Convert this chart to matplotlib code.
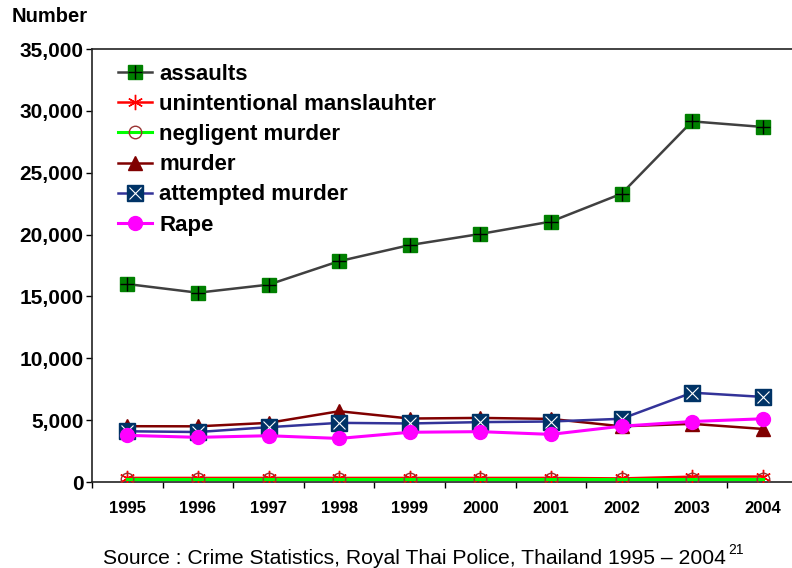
import matplotlib.pyplot as plt
import numpy as np
from matplotlib.legend_handler import HandlerTuple
from matplotlib.ticker import FuncFormatter, FixedLocator

plt.rcParams['font.family'] = ['Liberation Sans', 'DejaVu Sans']

# data
years = ["1995", "1996", "1997", "1998", "1999", "2000", "2001", "2002", "2003", "2004"]
assaults = [16000, 15300, 15950, 17850, 19150, 20050, 21050, 23300, 29150, 28700]
manslaughter = [330, 330, 330, 330, 330, 330, 330, 290, 430, 440]
negligent = [270, 270, 270, 270, 270, 270, 270, 270, 270, 270]
murder = [4510, 4500, 4780, 5720, 5130, 5180, 5100, 4500, 4700, 4290]
attempted = [4100, 4040, 4430, 4780, 4730, 4840, 4890, 5110, 7220, 6880]
rape = [3770, 3610, 3740, 3520, 4020, 4070, 3850, 4510, 4890, 5110]

x = np.arange(len(years))

fig = plt.figure(figsize=(7.92, 5.68), dpi=100)
ax = fig.add_axes([92 / 792, 1 - 482 / 568, 706 / 792, 433 / 568])

# assaults: green square with black cross
l_as, = ax.plot(x, assaults, color="#404040", lw=1.8, marker="s", ms=10,
                mfc="#008000", mec="#008000", zorder=3)
p_as, = ax.plot(x, assaults, ls="none", marker="+", ms=10, mec="black", mew=1.0, zorder=4)

l_ma, = ax.plot(x, manslaughter, color="red", lw=1.8, marker=(6, 2, 0), ms=11,
                mec="red", mew=1.0, zorder=3)
l_ne, = ax.plot(x, negligent, color="#00ff00", lw=2.2, marker="o", ms=9,
                mfc="none", mec="#993333", mew=1.0, zorder=3)
l_mu, = ax.plot(x, murder, color="#800000", lw=1.8, marker="^", ms=10,
                mfc="#800000", mec="#800000", zorder=3)

# attempted murder: navy square with white x
l_at, = ax.plot(x, attempted, color="#333399", lw=1.8, marker="s", ms=11,
                mfc="#003366", mec="#003366", zorder=3)
p_at, = ax.plot(x, attempted, ls="none", marker="x", ms=9, mec="white", mew=0.8, zorder=4)

l_ra, = ax.plot(x, rape, color="#ff00ff", lw=2.2, marker="o", ms=10,
                mfc="#ff00ff", mec="#ff00ff", zorder=5)

ax.set_xlim(-0.5, 9.5)
ax.set_ylim(0, 35000)
ax.set_yticks(np.arange(0, 35001, 5000))
ax.yaxis.set_major_formatter(FuncFormatter(lambda v, p: "{:,.0f}".format(v)))
ax.set_xticks(x)
ax.set_xticklabels(years)
ax.xaxis.set_minor_locator(FixedLocator(np.arange(-0.5, 10, 1)))
ax.tick_params(axis="x", which="major", length=0, pad=14, labelsize=12)
ax.tick_params(axis="x", which="minor", length=4, width=1, direction="out")
ax.tick_params(axis="y", length=4, width=1, direction="out", labelsize=15, pad=2)
for lab in ax.get_xticklabels() + ax.get_yticklabels():
    lab.set_fontweight("bold")

for s in ax.spines.values():
    s.set_linewidth(1.2)
    s.set_color("#222222")

handles = [(l_as, p_as), l_ma, l_ne, l_mu, (l_at, p_at), l_ra]
labels = ["assaults", "unintentional manslauhter", "negligent murder", "murder",
          "attempted murder", "Rape"]
ax.legend(handles, labels, handler_map={tuple: HandlerTuple(ndivide=1)},
          loc="upper left", bbox_to_anchor=(26 / 706, 1 - 15 / 433), frameon=False,
          prop={"weight": "bold", "size": 16}, handlelength=1.55,
          handletextpad=0.3, labelspacing=0.41, borderaxespad=0, borderpad=0)

fig.text(12 / 792, 1 - 17 / 568, "Number", fontsize=14.5, fontweight="bold", va="center")
fig.text(103 / 792, 1 - 558 / 568, "Source : Crime Statistics, Royal Thai Police, Thailand 1995 \u2013 2004",
         fontsize=15.2, va="center")
fig.text(728 / 792, 1 - 550 / 568, "21", fontsize=10, va="center")

fig.savefig("out.png", dpi=100)
